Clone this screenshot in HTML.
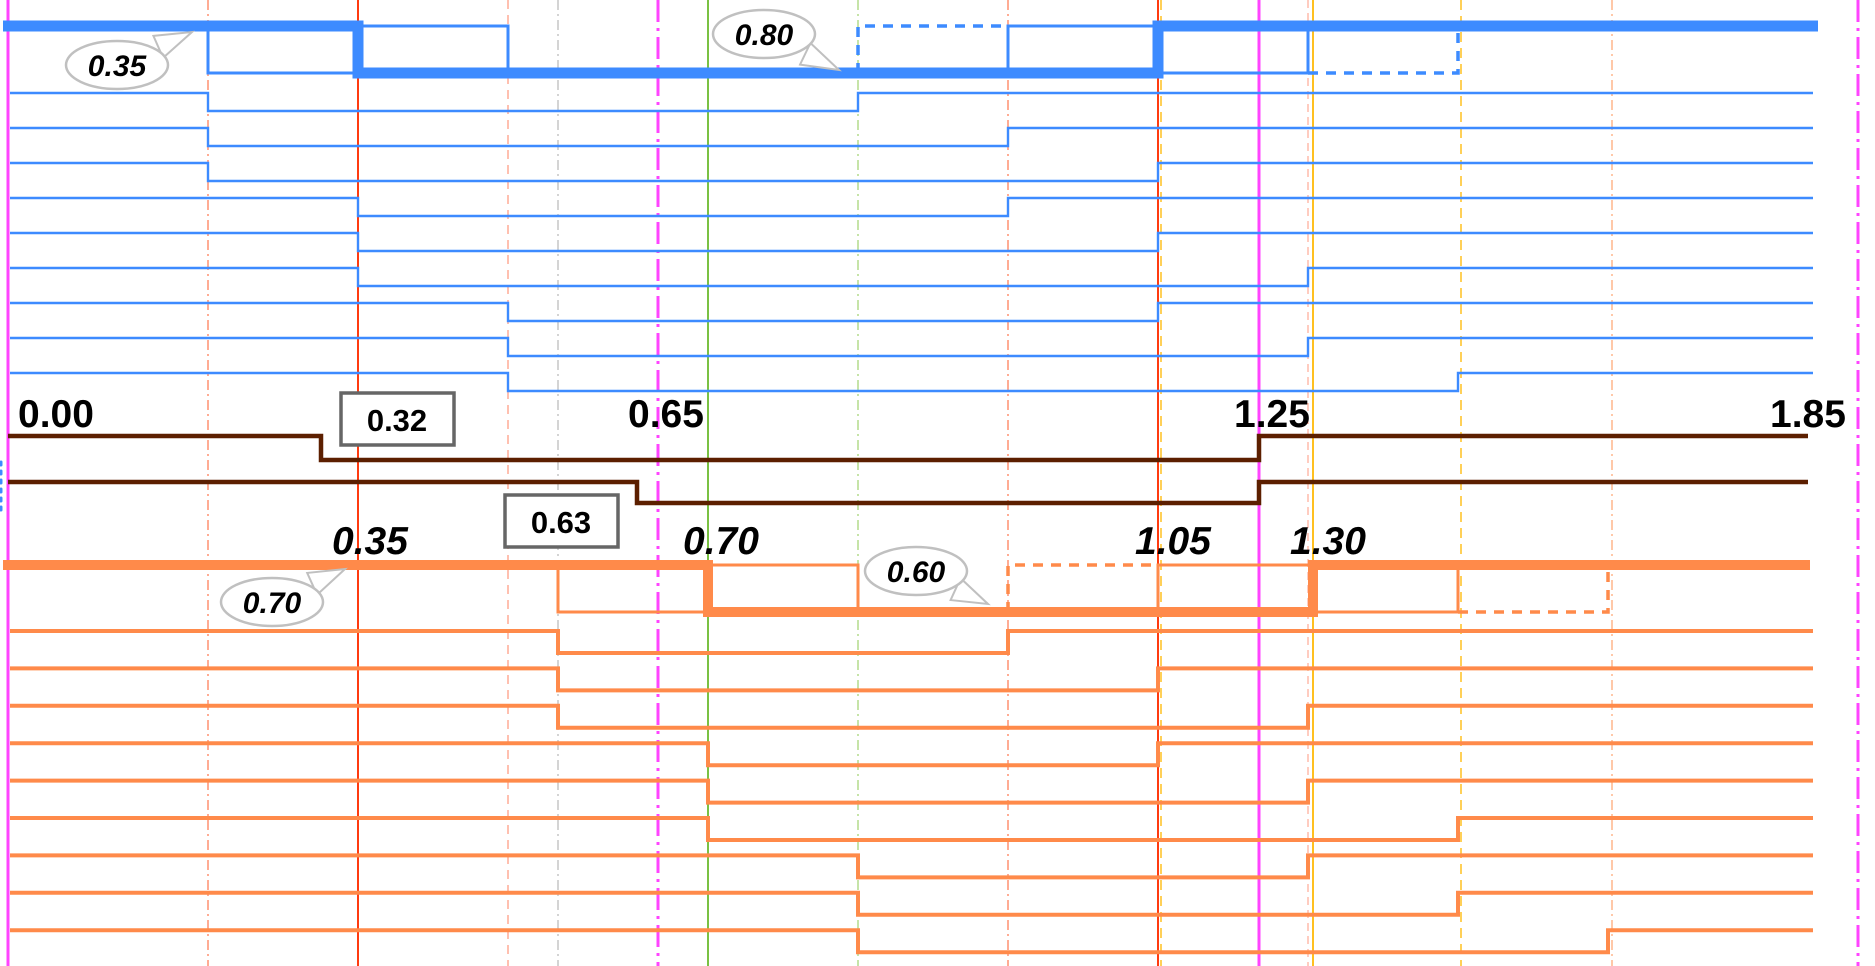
<!DOCTYPE html>
<html><head><meta charset="utf-8">
<style>
html,body{margin:0;padding:0;background:#fff;}
svg{display:block;}
text{font-family:"Liberation Sans",Arial,sans-serif;font-weight:bold;}
</style></head>
<body>
<svg id="chart" width="1875" height="966" viewBox="0 0 1875 966" xmlns="http://www.w3.org/2000/svg"></svg>
<script>
// ---- data ----
const blueFall = [0.2,0.2,0.2,0.35,0.35,0.35,0.5,0.5,0.5];
const blueRise = [0.85,1.0,1.15,1.0,1.15,1.3,1.15,1.3,1.45];
const orangeFall = [0.55,0.55,0.55,0.7,0.7,0.7,0.85,0.85,0.85];
const orangeRise = [1.0,1.15,1.3,1.15,1.3,1.45,1.3,1.45,1.6];
const brownFall = [0.313,0.629];
const brownRise = [1.251,1.251];
const markerTimes = [0,0.2,0.35,0.5,0.55,0.65,0.7,0.85,1.0,1.15,1.153,1.251,1.3,1.305,1.453,1.604,1.85];
const markerKinds = ['mag','reddd','red','redd','grayd','magd','green','greendd','reddd','red','yeld','mag','salmd','yel','yeld','orgdd','magd'];
const topLabels = ['0.00','0.65','1.25','1.85'];
const topLabelTimes = [0.01,0.62,1.226,1.762];
const italicLabels = ['0.35','0.70','1.05','1.30'];
const italicLabelTimes = [0.324,0.675,1.127,1.282];
const boxLabels = ['0.32','0.63'];
const boxLabelTimes = [0.333,0.497];
const callouts = ['0.35','0.80','0.70','0.60'];
const END = 1.805;

// ---- scale ----
const X = t => 8 + 1000*t;
const svg = document.getElementById('chart');
const NS = 'http://www.w3.org/2000/svg';
function el(tag, attrs){const e=document.createElementNS(NS,tag);for(const k in attrs)e.setAttribute(k,attrs[k]);svg.appendChild(e);return e;}

// ---- vertical markers ----
const styles = {
 mag:{c:'#ff44ff',w:3,d:''}, magd:{c:'#ff44ff',w:3,d:'22 6 3 6'},
 red:{c:'#ff3b10',w:2,d:''}, reddd:{c:'#ff5a2a',w:1,d:'10 4 2 4'}, redd:{c:'#ff8060',w:1,d:'9 6'},
 grayd:{c:'#aaaaaa',w:1,d:'10 4 2 4'}, green:{c:'#7ac143',w:2,d:''}, greendd:{c:'#8cc850',w:1,d:'10 4 2 4'},
 yel:{c:'#ffc020',w:2,d:''}, yeld:{c:'#ffc020',w:1.5,d:'10 6'}, salmd:{c:'#ff9a80',w:1,d:'8 5'}, orgdd:{c:'#ff9050',w:1,d:'10 4 2 4'}
};
markerTimes.forEach((t,i)=>{
 const s=styles[markerKinds[i]];
 const l=el('line',{x1:X(t),x2:X(t),y1:0,y2:966,stroke:s.c,'stroke-width':s.w,'stroke-dasharray':s.d});
 
 
});
const dots=el('line',{x1:1,x2:1,y1:462,y2:515,stroke:'#3d8bff','stroke-width':3,'stroke-dasharray':'3 6','stroke-linecap':'round'});



function stepPath(pts){return pts.map((p,i)=>(i?'L':'M')+p[0]+' '+p[1]).join(' ');}
function seg(pts,color,w,dash,name){
 const p=el('path',{d:stepPath(pts.map(q=>[X(q[0]),q[1]])),fill:'none',stroke:color,'stroke-width':w,'stroke-dasharray':dash||''});
 
 
}

// ---- blue group ----
const BH=26, BL=73, BLUE='#3d8bff';
seg([[0.2,BH],[0.2,BL],[0.35,BL]],BLUE,3,'','blue-bus-thin');
seg([[0.35,BH],[0.5,BH],[0.5,BL]],BLUE,3,'','blue-bus-thin');
seg([[0.85,BL],[0.85,BH],[1.0,BH]],BLUE,3.5,'10 8','blue-bus-dashed');
seg([[1.0,BL],[1.0,BH],[1.15,BH]],BLUE,3,'','blue-bus-thin');
seg([[1.15,BL],[1.3,BL],[1.3,BH]],BLUE,3,'','blue-bus-thin');
seg([[1.3,BL],[1.45,BL],[1.45,BH]],BLUE,3.5,'10 8','blue-bus-dashed');
seg([[-0.005,BH],[0.35,BH],[0.35,BL],[1.15,BL],[1.15,BH],[END+0.005,BH]],BLUE,11,'','blue-bus-thick');
blueFall.forEach((f,i)=>{
 const hi=93+35*i, lo=hi+18;
 seg([[0.002,hi],[f,hi],[f,lo],[blueRise[i],lo],[blueRise[i],hi],[END,hi]],BLUE,2.4,'','blue-signal-'+(i+1));
});

// ---- brown ----
const BROWN='#5c1f00';
brownFall.forEach((f,i)=>{
 const hi=[436,482][i], lo=[460,503][i];
 seg([[0,hi],[f,hi],[f,lo],[brownRise[i],lo],[brownRise[i],hi],[1.8,hi]],BROWN,4.5,'','brown-signal-'+(i+1));
});

// ---- orange group ----
const OH=565, OL=612, OR='#ff8a4a';
seg([[0.55,OH],[0.55,OL],[0.7,OL]],OR,3,'','orange-bus-thin');
seg([[0.7,OH],[0.85,OH],[0.85,OL]],OR,3,'','orange-bus-thin');
seg([[1.0,OL],[1.0,OH],[1.15,OH]],OR,3.5,'10 8','orange-bus-dashed');
seg([[1.15,OL],[1.15,OH],[1.3,OH]],OR,3,'','orange-bus-thin');
seg([[1.3,OL],[1.45,OL],[1.45,OH]],OR,3,'','orange-bus-thin');
seg([[1.45,OL],[1.6,OL],[1.6,OH]],OR,3.5,'10 8','orange-bus-dashed');
seg([[-0.005,OH],[0.7,OH],[0.7,OL],[1.305,OL],[1.305,OH],[1.802,OH]],OR,10,'','orange-bus-thick');
orangeFall.forEach((f,i)=>{
 const hi=631+37.4*i, lo=hi+22;
 seg([[0.002,hi],[f,hi],[f,lo],[orangeRise[i],lo],[orangeRise[i],hi],[1.805,hi]],OR,4,'','orange-signal-'+(i+1));
});

// ---- labels ----
topLabels.forEach((s,i)=>{
 const t=el('text',{x:X(topLabelTimes[i]),y:427,'font-size':39,fill:'#000'});t.textContent=s;
 
 
});
italicLabels.forEach((s,i)=>{
 const t=el('text',{x:X(italicLabelTimes[i]),y:554,'font-size':39,'font-style':'italic',fill:'#000'});t.textContent=s;
 
 
});
boxLabels.forEach((s,i)=>{
 const bx=X(boxLabelTimes[i]), by=[393,495][i];
 const r=el('rect',{x:bx,y:by,width:113,height:52,fill:'#fff',stroke:'#666','stroke-width':3.5});
 
 
 const t=el('text',{x:bx+56,y:by+38,'font-size':31,'text-anchor':'middle',fill:'#000'});t.textContent=s;
 
 
});
// callouts
const cPos=[[117,65,192,32],[764,34,839,70],[272,602,345,569],[916,571,988,604]];
callouts.forEach((s,i)=>{
 const [cx,cy,tx,ty]=cPos[i];
 const dx=tx-cx, dy=ty-cy, L=Math.hypot(dx,dy), px=-dy/L, py=dx/L;
 const bx=cx+dx*0.55, by=cy+dy*0.55;
 const tail=el('polygon',{points:`${bx+px*12},${by+py*12} ${tx},${ty} ${bx-px*12},${by-py*12}`,fill:'#fff',stroke:'#c0c0c0','stroke-width':2});
 
 
 const e=el('ellipse',{cx:cx,cy:cy,rx:51,ry:24,fill:'#fff',stroke:'#c0c0c0','stroke-width':2.5});
 
 
 const t=el('text',{x:cx,y:cy+11,'font-size':30,'font-style':'italic','text-anchor':'middle',fill:'#000'});t.textContent=s;
 
 
});
</script>
</body></html>
